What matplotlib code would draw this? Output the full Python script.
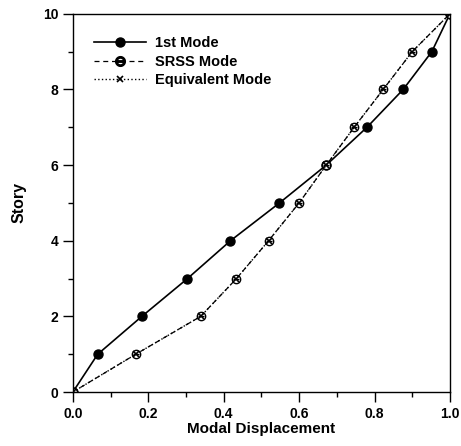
import numpy as np
import matplotlib
matplotlib.use("Agg")
import matplotlib.pyplot as plt
from matplotlib.ticker import MultipleLocator, FormatStrFormatter
from matplotlib.lines import Line2D

# ============================================================
# Data
# ============================================================
story = [0, 1, 2, 3, 4, 5, 6, 7, 8, 9, 10]
mode1_disp = [0.0, 0.066, 0.183, 0.304, 0.418, 0.548, 0.672, 0.780, 0.876, 0.952, 1.0]
srss_disp = [0.0, 0.167, 0.339, 0.434, 0.519, 0.600, 0.672, 0.746, 0.823, 0.900, 1.0]
equiv_disp = [0.0, 0.167, 0.339, 0.434, 0.519, 0.600, 0.672, 0.746, 0.823, 0.900, 1.0]

plt.rcParams["font.family"] = ["Liberation Sans", "DejaVu Sans"]
plt.rcParams["font.weight"] = "bold"

fig = plt.figure(figsize=(4.61, 4.46), dpi=100)
ax = fig.add_axes([0.158, 0.121, 0.818, 0.848])

# ============================================================
# Curves
# ============================================================
ax.plot(mode1_disp, story, "-", color="black", lw=1.2, marker="o",
        ms=6.5, mfc="black", mec="black")
ax.plot(srss_disp, story, "--", color="black", lw=0.9, marker="o",
        ms=6, mfc="white", mec="black", dashes=(4, 3))
ax.plot(srss_disp, story, " ", marker="_", ms=5, mec="black", mew=0.9)
ax.plot(equiv_disp, story, ":", color="black", lw=1.0, marker="x",
        ms=5, mec="black", mew=1.2)

# legend handles
h1 = Line2D([], [], color="black", lw=1.2, marker="o", ms=6.5, mfc="black")
h2 = Line2D([], [], color="black", lw=0.9, ls="--", dashes=(4, 3),
            marker="$\\ominus$", ms=7)
h3 = Line2D([], [], color="black", lw=1.0, ls=":", marker="x", ms=5, mew=1.2)
ax.legend([h1, h2, h3], ["1st Mode", "SRSS Mode", "Equivalent Mode"],
          loc="upper left", bbox_to_anchor=(0.02, 0.975), frameon=False,
          handlelength=3.6, handletextpad=0.6, labelspacing=0.3,
          prop={"weight": "bold", "size": 10.5})

# ============================================================
# Axes
# ============================================================
ax.set_xlim(0, 1.0)
ax.set_ylim(0, 10)
ax.xaxis.set_major_locator(MultipleLocator(0.2))
ax.xaxis.set_minor_locator(MultipleLocator(0.1))
ax.yaxis.set_major_locator(MultipleLocator(2))
ax.yaxis.set_minor_locator(MultipleLocator(1))
ax.xaxis.set_major_formatter(FormatStrFormatter("%.1f"))
ax.tick_params(which="major", direction="out", length=7, width=1, labelsize=10)
ax.tick_params(which="minor", direction="out", length=3.5, width=1)
for lbl in ax.get_xticklabels() + ax.get_yticklabels():
    lbl.set_fontweight("bold")

ax.set_xlabel("Modal Displacement", fontsize=11, fontweight="bold", labelpad=1)
ax.set_ylabel("Story", fontsize=11.5, fontweight="bold", labelpad=12)

for s in ax.spines.values():
    s.set_linewidth(1.0)

fig.savefig("out.png", dpi=100)
